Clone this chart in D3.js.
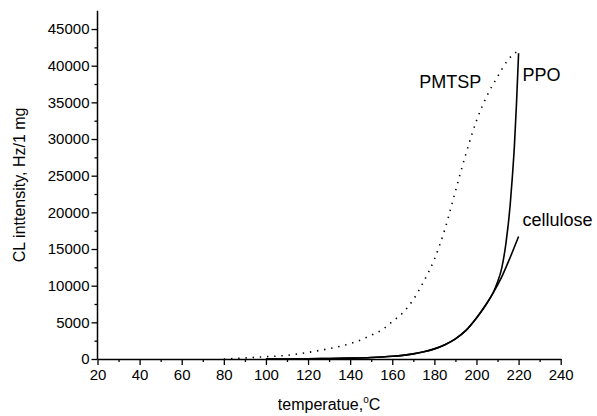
<!DOCTYPE html>
<html>
<head>
<meta charset="utf-8">
<script src="https://cdn.jsdelivr.net/npm/d3@7"></script>
<style>
  body { margin: 0; background: #fff; }
  svg { display: block; font-family: "Liberation Sans", Arial, sans-serif; }
</style>
</head>
<body>
<div id="chart"></div>
<script>
// temperature (°C) and CL intensity (Hz/1 mg)
const pmtspT = [80, 85, 90, 95, 100, 105, 110, 115, 120, 125, 130, 135, 140, 145, 150, 155, 160, 165, 170, 175, 180, 185, 190, 195, 200, 205, 210, 215, 220];
const pmtspI = [0, 60, 140, 230, 320, 390, 500, 680, 900, 1150, 1400, 1720, 2100, 2600, 3250, 3950, 5100, 6300, 8100, 10600, 13600, 17700, 22900, 28000, 32500, 35900, 38500, 40800, 42100];

const ppoT = [100, 110, 120, 130, 140, 150, 155, 160, 165, 170, 175, 180, 185, 190, 195, 200, 204, 208, 210, 212, 214, 216, 217, 218, 219, 220];
const ppoI = [0, 10, 30, 60, 120, 210, 280, 370, 500, 700, 980, 1380, 1950, 2750, 3900, 5600, 7200, 9100, 10500, 12400, 15800, 21000, 24700, 29000, 34800, 41700];

const celT = [100, 110, 120, 130, 140, 150, 155, 160, 165, 170, 175, 180, 185, 190, 195, 200, 204, 208, 212, 216, 220];
const celI = [0, 10, 30, 60, 120, 210, 280, 370, 500, 700, 980, 1380, 1950, 2750, 3900, 5600, 7200, 9050, 11200, 13850, 16700];

const xTicks = [20, 40, 60, 80, 100, 120, 140, 160, 180, 200, 220, 240];
const yTicks = [0, 5000, 10000, 15000, 20000, 25000, 30000, 35000, 40000, 45000];

const labels = [
  { text: "PMTSP", t: 172.8, v: 36950 },
  { text: "PPO", t: 221.8, v: 37950 },
  { text: "cellulose", t: 221.8, v: 18140 }
];

const width = 597, height = 416;
const margin = { left: 97.5, top: 10.7, right: 36.3, bottom: 57 };

const svg = d3.select("#chart").append("svg")
  .attr("width", width)
  .attr("height", height);

svg.append("rect").attr("width", width).attr("height", height).attr("fill", "#fff");

const x = d3.scaleLinear().domain([20, 240]).range([margin.left, width - margin.right]);
const y = d3.scaleLinear().domain([0, 47500]).range([height - margin.bottom, margin.top]);

// minor ticks first
svg.append("g")
  .attr("transform", `translate(0,${y(0)})`)
  .call(d3.axisBottom(x).tickValues(d3.range(30, 240, 20)).tickSize(3).tickFormat(""))
  .call(g => g.select(".domain").remove())
  .call(g => g.selectAll("line").attr("stroke-width", 1.3));

svg.append("g")
  .attr("transform", `translate(${x(20)},0)`)
  .call(d3.axisLeft(y).tickValues(d3.range(2500, 47500, 5000)).tickSize(3).tickFormat(""))
  .call(g => g.select(".domain").remove())
  .call(g => g.selectAll("line").attr("stroke-width", 1.3));

const xAxis = svg.append("g")
  .attr("transform", `translate(0,${y(0)})`)
  .call(d3.axisBottom(x).tickValues(xTicks).tickSize(6).tickSizeOuter(0).tickPadding(4));

const yAxis = svg.append("g")
  .attr("transform", `translate(${x(20)},0)`)
  .call(d3.axisLeft(y).tickValues(yTicks).tickFormat(d3.format("d")).tickSize(6).tickSizeOuter(0).tickPadding(2));

[xAxis, yAxis].forEach(g => {
  g.select(".domain").attr("stroke-width", 1.5);
  g.selectAll("line").attr("stroke-width", 1.3);
  g.selectAll("text").attr("font-size", 15).attr("font-family", "Liberation Sans, Arial, sans-serif").attr("fill", "#000");
});
yAxis.select(".domain").attr("d", `M0,${y(47500)}V${y(0)}`);

const line = d3.line()
  .x(d => x(d[0]))
  .y(d => y(d[1]))
  .curve(d3.curveMonotoneX);

svg.append("path")
  .datum(pmtspT.map((t, i) => [t, pmtspI[i]]))
  .attr("d", line)
  .attr("fill", "none")
  .attr("stroke", "#000")
  .attr("stroke-width", 1.6)
  .attr("stroke-dasharray", "1.4 5.8");

svg.append("path")
  .datum(ppoT.map((t, i) => [t, ppoI[i]]))
  .attr("d", line)
  .attr("fill", "none")
  .attr("stroke", "#000")
  .attr("stroke-width", 1.6);

svg.append("path")
  .datum(celT.map((t, i) => [t, celI[i]]))
  .attr("d", line)
  .attr("fill", "none")
  .attr("stroke", "#000")
  .attr("stroke-width", 1.6);

svg.selectAll(".lbl")
  .data(labels)
  .enter()
  .append("text")
  .attr("class", "lbl")
  .attr("x", d => x(d.t))
  .attr("y", d => y(d.v))
  .attr("font-size", 18)
  .text(d => d.text);

// axis titles
const xTitle = svg.append("text")
  .attr("x", (x(20) + x(240)) / 2)
  .attr("y", 410)
  .attr("text-anchor", "middle")
  .attr("font-size", 16);
xTitle.append("tspan").text("temperatue,");
xTitle.append("tspan").attr("font-size", 10).attr("dy", -7).text("o");
xTitle.append("tspan").attr("dy", 7).text("C");

svg.append("text")
  .attr("transform", `translate(25,${(y(0) + y(47500)) / 2}) rotate(-90)`)
  .attr("text-anchor", "middle")
  .attr("font-size", 16)
  .text("CL inttensity, Hz/1 mg");
</script>
</body>
</html>
